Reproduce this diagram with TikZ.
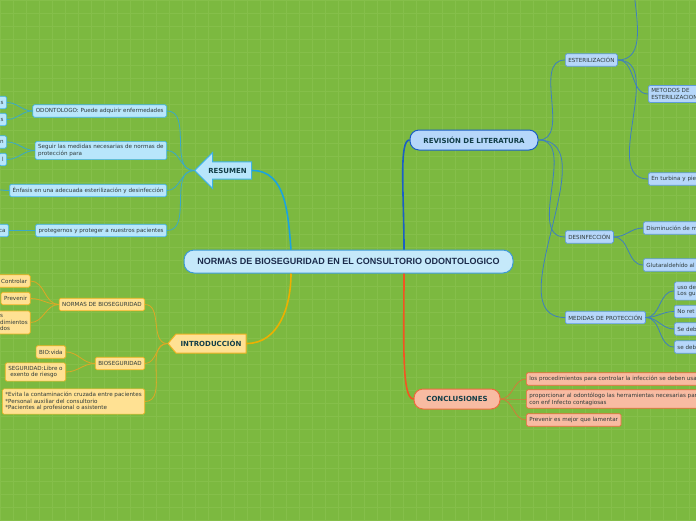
\documentclass[tikz,border=0pt]{standalone}
\usepackage{fontspec}
\setmainfont{DejaVu Sans}
\newfontfamily\rootfamily{Liberation Sans}
\usetikzlibrary{shapes.arrows,shapes.symbols}
\definecolor{BgClr}{HTML}{7CB940}
\definecolor{GridClr}{HTML}{85BF4A}
\definecolor{RootFill}{HTML}{C5E9FA}
\definecolor{RootLine}{HTML}{3D9AD6}
\definecolor{RootText}{HTML}{1B2B4B}
\definecolor{TopicText}{HTML}{123E48}
\definecolor{LeafText}{HTML}{2E3A3A}
\definecolor{ResFill}{HTML}{B8E6FB}
\definecolor{ResLine}{HTML}{3FB2E4}
\definecolor{ResMain}{HTML}{1AA3E0}
\definecolor{ResLink}{HTML}{3AA9C6}
\definecolor{RevFill}{HTML}{B6D7FA}
\definecolor{RevMain}{HTML}{1B5FC4}
\definecolor{RevLine}{HTML}{5F9CDC}
\definecolor{RevLink}{HTML}{3E7FBF}
\definecolor{IntFill}{HTML}{FFE193}
\definecolor{IntLine}{HTML}{F0B322}
\definecolor{IntMain}{HTML}{EDB000}
\definecolor{IntLink}{HTML}{DDA826}
\definecolor{ConFill}{HTML}{F8BBA2}
\definecolor{ConLine}{HTML}{EC6B3E}
\definecolor{ConMain}{HTML}{F25522}
\definecolor{ConLink}{HTML}{CF7D3A}

\tikzset{
  leaf/.style={rectangle,rounded corners=1.5pt,line width=0.7pt,inner xsep=3pt,inner ysep=3pt,
    minimum height=12.5pt,align=left,text=LeafText,font=\fontsize{5.6}{6.8}\selectfont},
  resleaf/.style={leaf,draw=ResLine,fill=ResFill},
  revleaf/.style={leaf,draw=RevLine,fill=RevFill},
  intleaf/.style={leaf,draw=IntLine,fill=IntFill},
  conleaf/.style={leaf,draw=ConLine,fill=ConFill},
  cutright/.style={text width=#1},
  topic/.style={rectangle,rounded corners=9pt,line width=1pt,minimum height=20pt,
    text=TopicText,font=\bfseries\fontsize{7}{8}\selectfont},
  link/.style={line width=0.8pt},
  mainlink/.style={line width=1.6pt},
}

\begin{document}
\begin{tikzpicture}[x=1pt,y=-1pt]
\useasboundingbox (0,0) rectangle (696,520);
\clip (0,0) rectangle (696,520);
\fill[BgClr] (0,0) rectangle (696,520);
\draw[GridClr,line width=0.4pt,xstep=13pt,ystep=13pt] (0,0) grid (696,520);

\node[rectangle,rounded corners=10pt,draw=RootLine,fill=RootFill,line width=1pt,
  minimum width=329pt,minimum height=23pt,text=RootText,
  font=\rootfamily\bfseries\fontsize{9}{10}\selectfont] (root) at (348.5,261.5)
  {NORMAS DE BIOSEGURIDAD EN EL CONSULTORIO ODONTOLOGICO};

\node[single arrow,shape border rotate=180,draw=ResLine,fill=ResFill,line width=1pt,
  minimum height=57pt,minimum width=36pt,single arrow head extend=4.5pt,
  single arrow tip angle=90,inner sep=1pt,text=TopicText,
  font=\bfseries\fontsize{7}{8}\selectfont] (resumen) at (227.5,170.5) {RESUMEN};
\node[signal,signal to=west,signal pointer angle=100,draw=IntLine,fill=IntFill,line width=1pt,
  minimum width=78pt,minimum height=19pt,inner sep=1pt,text=TopicText,
  font=\bfseries\fontsize{7}{8}\selectfont] (intro) at (211,343.5) {INTRODUCCIÓN};
\node[topic,draw=RevMain,fill=RevFill,minimum width=128pt] (revision) at (474,140) {REVISIÓN DE LITERATURA};
\node[topic,draw=ConLine,fill=ConFill,minimum width=86pt] (conclusion) at (457,399) {CONCLUSIONES};

\node[resleaf,anchor=east] (odonto) at (167,111) {ODONTOLOGO: Puede adquirir enfermedades};
\node[resleaf,anchor=east] (seguir) at (167,150.5) {Seguir las medidas necesarias de normas de\\protección para};
\node[resleaf,anchor=east] (enfasis) at (167,190.5) {Énfasis en una adecuada esterilización y desinfección};
\node[resleaf,anchor=east] (proteger) at (167,230.5) {protegernos y proteger a nuestros pacientes};
\node[resleaf,anchor=east] (odA) at (7,102.5) {s};
\node[resleaf,anchor=east] (odB) at (7,119.5) {s};
\node[resleaf,anchor=east] (sgA) at (7,142) {n};
\node[resleaf,anchor=east] (sgB) at (7,159.5) {l};
\coordinate (enfA) at (-25,187);
\node[resleaf,anchor=east] (prA) at (9,230.5) {ca};

\node[intleaf,anchor=east] (normas) at (145,304.5) {NORMAS DE BIOSEGURIDAD};
\node[intleaf,anchor=east] (bioseg) at (145,363.5) {BIOSEGURIDAD};
\node[intleaf,anchor=east] (evita) at (145,401.5) {*Evita la contaminación cruzada entre pacientes\\*Personal auxiliar del consultorio\\*Pacientes al profesional o asistente};
\node[intleaf,anchor=east] (controlar) at (30.5,281) {Controlar};
\node[intleaf,anchor=east] (prevenir) at (30.5,298.5) {Prevenir};
\node[intleaf,anchor=east,text width=27pt] (procA) at (30.5,322.5) {s\\dimientos\\dos};
\node[intleaf,anchor=east] (bio) at (66,352) {BIO:vida};
\node[intleaf,anchor=east] (seg) at (66,372) {SEGURIDAD:Libre o\\\hspace*{2pt}exento de riesgo};

\node[revleaf,anchor=west] (ester) at (565,60) {ESTERILIZACIÓN};
\node[revleaf,anchor=west] (desinf) at (565,237) {DESINFECCIÓN};
\node[revleaf,anchor=west] (medidas) at (565,317.5) {MEDIDAS DE PROTECCIÓN};
\coordinate (esterA) at (652,-60);
\node[revleaf,anchor=west,cutright=60pt] (metodos) at (648,94) {METODOS DE\\ESTERILIZACION};
\node[revleaf,anchor=west,cutright=60pt] (turbina) at (648,179) {En turbina y pie};
\node[revleaf,anchor=west,cutright=60pt] (dismin) at (643,228) {Disminución de m};
\node[revleaf,anchor=west,cutright=60pt] (glutar) at (643,265) {Glutaraldehído al};
\node[revleaf,anchor=west,cutright=40pt] (uso) at (674,291) {uso de\\Los gu};
\node[revleaf,anchor=west,cutright=40pt] (noret) at (674,311.5) {No ret};
\node[revleaf,anchor=west,cutright=40pt] (sedebA) at (674,329) {Se deb};
\node[revleaf,anchor=west,cutright=40pt] (sedebB) at (674,347) {se deb};

\node[conleaf,anchor=west] (procs) at (526,379) {los procedimientos para controlar la infección se deben usar};
\node[conleaf,anchor=west] (herram) at (526,399) {proporcionar al odontólogo las herramientas necesarias para\\con enf Infecto contagiosas};
\node[conleaf,anchor=west] (prevmejor) at (526,420) {Prevenir es mejor que lamentar};

\draw[mainlink,ResMain] ([xshift=-57.5pt]root.north) to[out=95,in=0] (resumen.tail);
\draw[mainlink,IntMain] ([xshift=-57.5pt]root.south) to[out=-90,in=0] (intro.east);
\draw[mainlink,RevMain] ([xshift=55.5pt]root.north) to[out=90,in=180,out looseness=1.3,in looseness=0.25] (revision.west);
\draw[mainlink,ConMain] ([xshift=55.5pt]root.south) to[out=-90,in=180,out looseness=1.3,in looseness=0.25] (conclusion.west);

\foreach \n in {odonto,seguir,enfasis,proteger}
  \draw[link,ResLink] (resumen.tip) to[out=180,in=0] (\n.east);
\draw[link,ResLink] (odonto.west) to[out=180,in=0] (odA.east);
\draw[link,ResLink] (odonto.west) to[out=180,in=0] (odB.east);
\draw[link,ResLink] (seguir.west) to[out=180,in=0] (sgA.east);
\draw[link,ResLink] (seguir.west) to[out=180,in=0] (sgB.east);
\draw[link,ResLink] (enfasis.west) to[out=180,in=0] (enfA);
\draw[link,ResLink] (proteger.west) to[out=180,in=0] (prA.east);

\foreach \n in {normas,bioseg,evita}
  \draw[link,IntLink] (intro.west) to[out=180,in=0] (\n.east);
\foreach \n in {controlar,prevenir,procA}
  \draw[link,IntLink] (normas.west) to[out=180,in=0] (\n.east);
\foreach \n in {bio,seg}
  \draw[link,IntLink] (bioseg.west) to[out=180,in=0] (\n.east);

\foreach \n in {ester,desinf,medidas}
  \draw[link,RevLink] (revision.east) to[out=0,in=180] (\n.west);
\draw[link,RevLink] (ester.east) to[out=0,in=180] (esterA);
\foreach \n in {metodos,turbina}
  \draw[link,RevLink] (ester.east) to[out=0,in=180] (\n.west);
\foreach \n in {dismin,glutar}
  \draw[link,RevLink] (desinf.east) to[out=0,in=180] (\n.west);
\foreach \n in {uso,noret,sedebA,sedebB}
  \draw[link,RevLink] (medidas.east) to[out=0,in=180] (\n.west);

\foreach \n in {procs,herram,prevmejor}
  \draw[link,ConLink] (conclusion.east) to[out=0,in=180] (\n.west);
\end{tikzpicture}
\end{document}
